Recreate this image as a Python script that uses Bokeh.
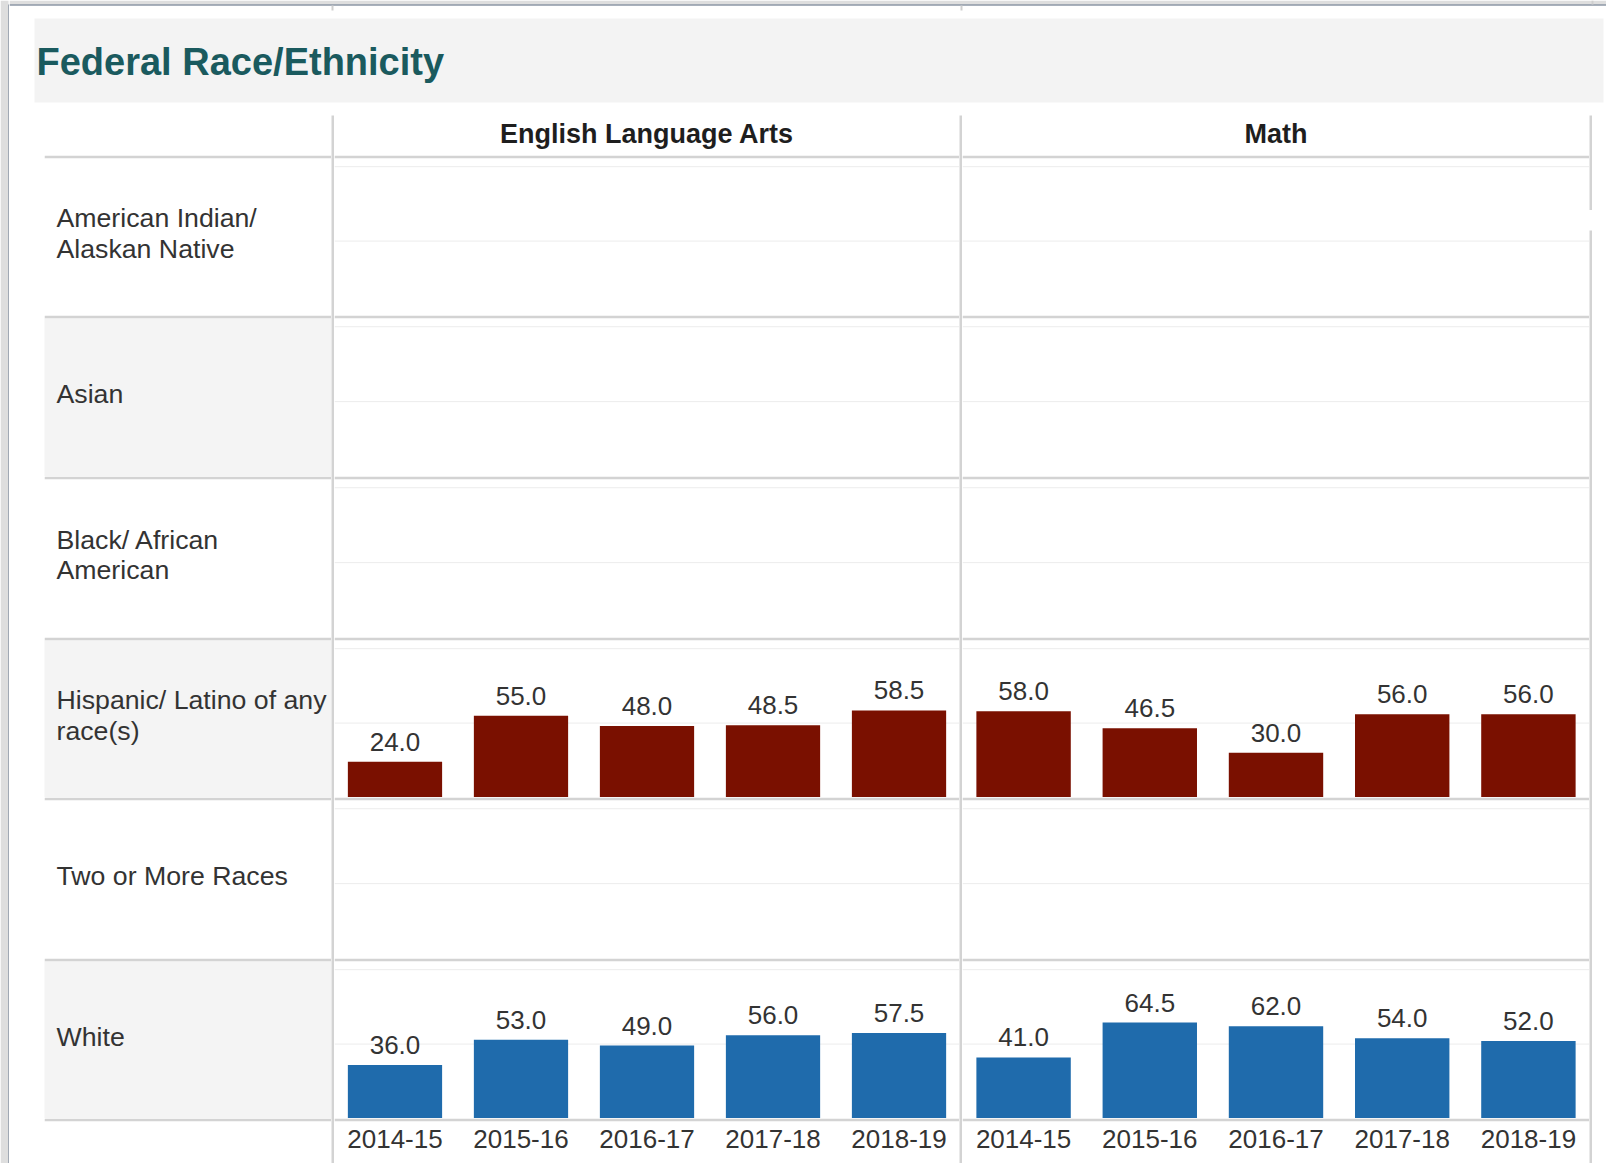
from bokeh.plotting import figure
from bokeh.layouts import row, column
from bokeh.models import Range1d, FactorRange, Span, ColumnDataSource, Spacer
from bokeh.core.properties import value
from bokeh.embed import file_html
from bokeh.resources import INLINE

# ---------------- data ----------------
title_text = "Federal Race/Ethnicity"
years = ["2014-15", "2015-16", "2016-17", "2017-18", "2018-19"]
subjects = ["English Language Arts", "Math"]
groups = [
    "American Indian/\nAlaskan Native",
    "Asian",
    "Black/ African\nAmerican",
    "Hispanic/ Latino of any\nrace(s)",
    "Two or More Races",
    "White",
]
ela_hispanic = [24.0, 55.0, 48.0, 48.5, 58.5]
math_hispanic = [58.0, 46.5, 30.0, 56.0, 56.0]
ela_white = [36.0, 53.0, 49.0, 56.0, 57.5]
math_white = [41.0, 64.5, 62.0, 54.0, 52.0]

values = {
    ("English Language Arts", groups[3]): ela_hispanic,
    ("Math", groups[3]): math_hispanic,
    ("English Language Arts", groups[5]): ela_white,
    ("Math", groups[5]): math_white,
}
bar_colors = {groups[3]: "#7a1000", groups[5]: "#1f6bac"}

# ---------------- style ----------------
FONT = value("Liberation Sans")
SEP = "#d3d3d3"
BAND = "#f4f4f4"
BORDER = "#55647a"
OUTSIDE = "#dedede"
TXT = "#333333"

row_heights = [157, 158, 158, 157, 158, 157]
label_w, ela_w, math_w = 287, 625, 627
panel_w = {"English Language Arts": ela_w, "Math": math_w}
panel_pad = {"English Language Arts": -0.02, "Math": -0.016}
header_h, axis_h, sep = 40, 42, 3
title_h, content_w = 115, 1597


def base(w, h, bg="white", xr=None, yr=None, border=None, top=0):
    p = figure(width=w, height=h, toolbar_location=None, output_backend="svg",
               x_range=xr if xr is not None else Range1d(0, 1),
               y_range=yr if yr is not None else Range1d(0, 1),
               x_axis_type=None, y_axis_type=None,
               background_fill_color=bg,
               border_fill_color=border if border is not None else bg,
               outline_line_color=None)
    p.min_border_left = p.min_border_right = 0
    p.min_border_bottom = 0
    p.min_border_top = top
    return p


def block(w, h, color):
    return base(w, h, bg=color)


# ---------------- title (with page frame decoration) ----------------
title_fig = base(content_w, title_h, xr=Range1d(0, content_w), yr=Range1d(title_h, 0))
title_fig.quad(left=[0, 0, 25], right=[content_w, content_w, 1594],
               top=[0, 4, 18], bottom=[4, 5, 102],
               fill_color=[OUTSIDE, BORDER, "#f3f3f3"], line_color=None)
title_fig.quad(left=[322, 951, 1582], right=[324, 953, 1584],
               top=[5, 5, 0], bottom=[10, 10, 4],
               fill_color="#cfcfcf", line_color=None)
title_fig.text(x=[27], y=[61], text=[title_text],
               text_font=FONT, text_font_size="38px", text_font_style="bold",
               text_color="#1a5a5e", text_baseline="middle", text_align="left")

# ---------------- label column ----------------
label_items = [Spacer(width=label_w, height=header_h)]
for i, g in enumerate(groups):
    bg = BAND if i % 2 == 1 else "white"
    lf = base(label_w, row_heights[i] + sep, bg=bg, border=SEP, top=sep)
    lf.text(x=[0], y=[0.522], text=[g], x_offset=12, text_font=FONT,
            text_font_size="26.7px", text_color=TXT, text_baseline="middle",
            text_align="left", text_line_height=1.03)
    label_items.append(lf)
label_items.append(base(label_w, axis_h + sep, border=SEP, top=sep))
label_col = column(*label_items, spacing=0)


# ---------------- subject columns ----------------
def subject_column(subj):
    w = panel_w[subj]
    xr = FactorRange(*years, range_padding=panel_pad[subj],
                     range_padding_units="absolute")
    hf = base(w, header_h)
    hf.text(x=[0.5], y=[0.55], text=[subj], text_font=FONT, text_font_size="27px",
            text_font_style="bold", text_color="#1e1e1e", text_align="center",
            text_baseline="middle")
    items = [hf]
    for i, g in enumerate(groups):
        p = base(w, row_heights[i] + sep, xr=xr, yr=Range1d(0, 105.5),
                 border=SEP, top=sep)
        for lvl in (50, 100):
            p.add_layout(Span(location=lvl, dimension="width", line_color="#ececec",
                              line_width=1, level="underlay"))
        vals = values.get((subj, g))
        if vals is not None:
            src = ColumnDataSource(dict(year=years, val=vals,
                                        lab=[f"{v:.1f}" for v in vals]))
            p.vbar(x="year", top="val", bottom=0, width=0.748, source=src,
                   fill_color=bar_colors[g], line_color=None)
            p.text(x="year", y="val", text="lab", source=src, y_offset=-20,
                   text_font=FONT, text_font_size="26px", text_color=TXT,
                   text_align="center", text_baseline="middle")
        items.append(p)
    af = base(w, axis_h + sep, xr=xr, border=SEP, top=sep)
    af.text(x=years, y=[0.59] * len(years), text=years, text_font=FONT,
            text_font_size="26px", text_color=TXT, text_align="center",
            text_baseline="middle")
    items.append(af)
    return column(*items, spacing=0)


full_h = header_h + sum(row_heights) + sep * (len(groups) + 1) + axis_h


def vsep():
    return block(sep, full_h, SEP)


right_sep = column(block(sep, 95, SEP), Spacer(width=sep, height=20),
                   block(sep, full_h - 115, SEP), spacing=0)

body = row(Spacer(width=35, height=full_h), label_col, vsep(),
           subject_column(subjects[0]), vsep(),
           subject_column(subjects[1]), right_sep,
           Spacer(width=13, height=full_h), spacing=0)

total_h = title_h + full_h
left_fig = base(9, total_h, xr=Range1d(0, 9), yr=Range1d(total_h, 0))
left_fig.quad(left=[0, 8], right=[8, 9], top=[0, 4], bottom=[total_h, total_h],
              fill_color=[OUTSIDE, BORDER], line_color=None)

layout = row(left_fig, column(title_fig, body, spacing=0), spacing=0)

open("out.html", "w").write(file_html(layout, INLINE))
